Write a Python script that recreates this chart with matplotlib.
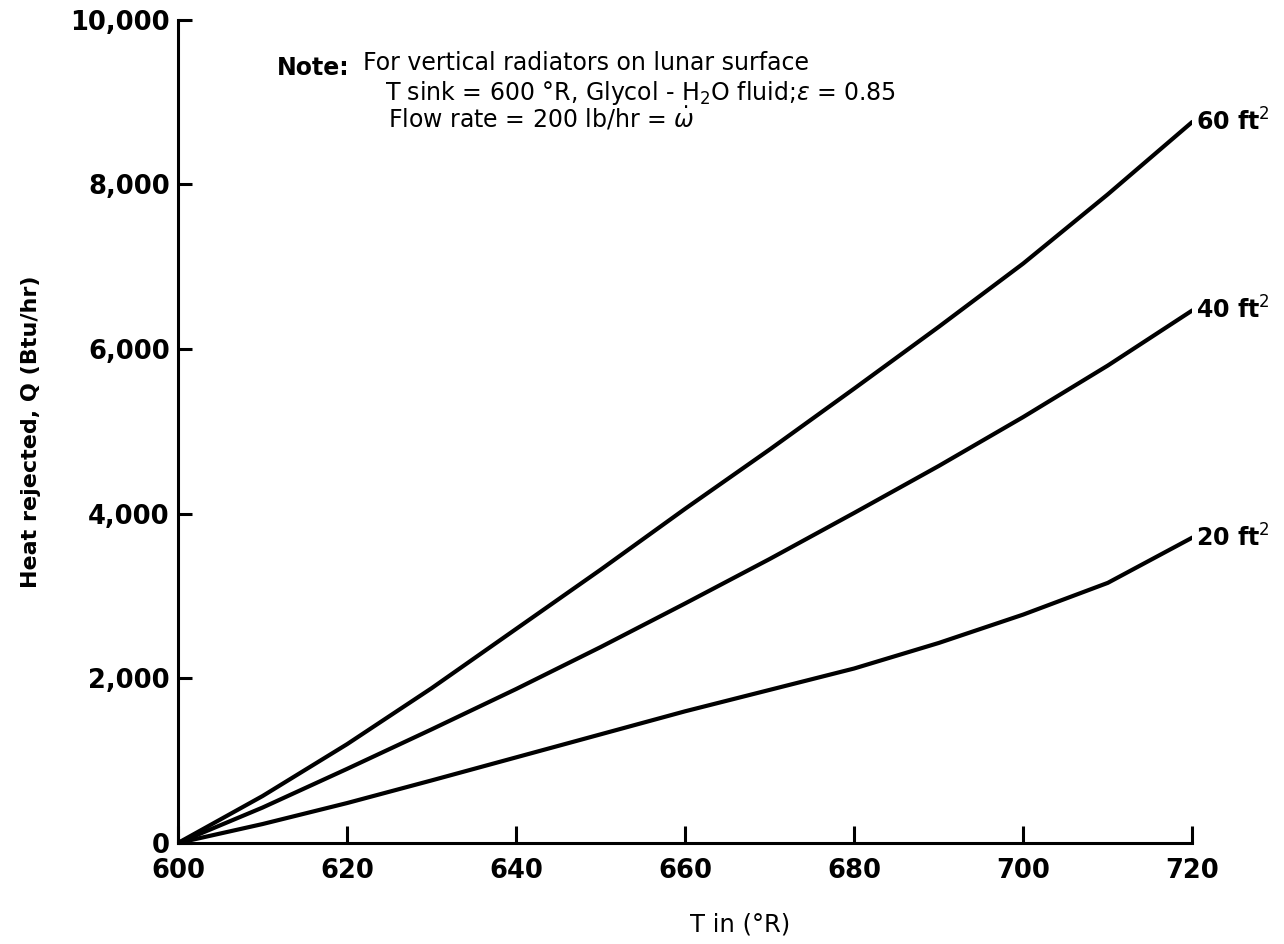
import matplotlib
matplotlib.use("Agg")
import matplotlib.pyplot as plt
import matplotlib.transforms as mtransforms

# inlet temperature (deg R) and heat rejected (Btu/hr) per radiator area
t_in = [600, 610, 620, 630, 640, 650, 660, 670, 680, 690, 700, 710, 720]
q_60 = [0, 570, 1200, 1880, 2600, 3320, 4060, 4780, 5520, 6270, 7040, 7880, 8760]
q_40 = [0, 430, 900, 1380, 1870, 2380, 2910, 3450, 4010, 4580, 5175, 5800, 6470]
q_20 = [0, 230, 485, 760, 1040, 1320, 1600, 1860, 2120, 2430, 2775, 3160, 3710]
curve_labels = ["60 ft$^2$", "40 ft$^2$", "20 ft$^2$"]

x_ticks = [600, 620, 640, 660, 680, 700, 720]
y_ticks = [0, 2000, 4000, 6000, 8000, 10000]
y_ticklabels = ["0", "2,000", "4,000", "6,000", "8,000", "10,000"]

plt.rcParams["font.family"] = ["DejaVu Sans"]

fig = plt.figure(figsize=(12.84, 9.44), dpi=100)
ax = fig.add_axes([0.1386, 0.107, 0.79, 0.872])

for q, lab in zip([q_60, q_40, q_20], curve_labels):
    ax.plot(t_in, q, color="black", lw=3.0, solid_capstyle="round", solid_joinstyle="round")
    ax.annotate(lab, xy=(t_in[-1], q[-1]), xytext=(3, 0), textcoords="offset points",
                ha="left", va="center", fontsize=17, fontweight="bold")

ax.set_xlim(600, 720)
ax.set_ylim(0, 10000)
ax.set_xticks(x_ticks)
ax.set_yticks(y_ticks)
ax.set_yticklabels(y_ticklabels)
for lbl in ax.get_xticklabels() + ax.get_yticklabels():
    lbl.set_fontsize(18.5)
    lbl.set_fontweight("bold")

# lift the "0" a little so it clears the 600 below it
zero_lbl = ax.get_yticklabels()[0]
zero_lbl.set_transform(zero_lbl.get_transform() +
                       mtransforms.ScaledTranslation(0, 5 / 100, fig.dpi_scale_trans))

ax.spines["top"].set_visible(False)
ax.spines["right"].set_visible(False)
ax.spines["left"].set_linewidth(2.2)
ax.spines["bottom"].set_linewidth(2.2)
ax.tick_params(axis="y", direction="in", length=10, width=2.2, pad=6)
ax.tick_params(axis="x", direction="in", length=12, width=2.2, pad=11)

ax.set_xlabel("T in (°R)", fontsize=17.5)
ax.xaxis.set_label_coords(0.554, -0.085)
ax.set_ylabel("Heat rejected, Q (Btu/hr)", fontsize=16, fontweight="bold")
ax.yaxis.set_label_coords(-0.135, 0.5)

fig.text(0.216, 0.928, "Note:", fontsize=17, fontweight="bold", ha="left", va="center")
fig.text(0.283, 0.933, "For vertical radiators on lunar surface", fontsize=17, ha="left", va="center")
fig.text(0.300, 0.902, "T sink = 600 °R, Glycol - H$_2$O fluid;$\\epsilon$ = 0.85", fontsize=17,
         ha="left", va="center")
fig.text(0.302, 0.874, "Flow rate = 200 lb/hr = $\\dot{\\omega}$", fontsize=17, ha="left", va="center")

fig.savefig("out.png", dpi=100)
